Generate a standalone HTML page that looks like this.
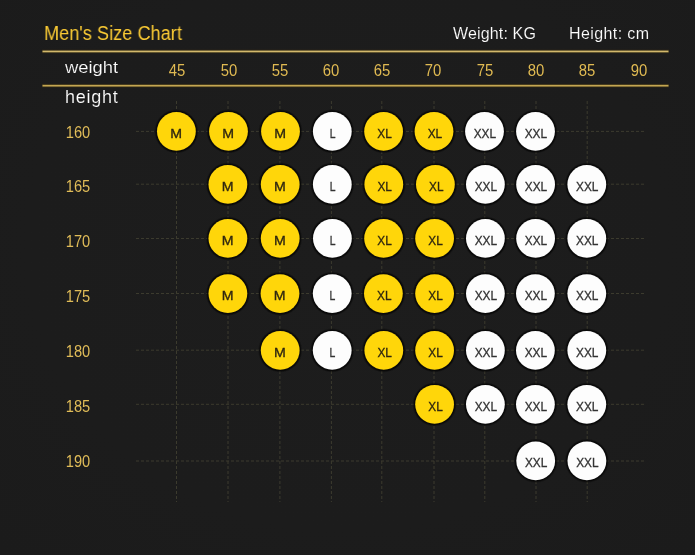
<!DOCTYPE html>
<html><head><meta charset="utf-8"><title>Men's Size Chart</title>
<style>
html,body{margin:0;padding:0;}
body{width:695px;height:555px;overflow:hidden;background:#1c1c1c;font-family:"Liberation Sans",sans-serif;position:relative;}
.bg{position:absolute;left:0;top:0;width:695px;height:555px;background:radial-gradient(ellipse at 50% 45%,#1d1d1d 0%,#1c1c1c 65%,#1b1b1b 100%);}
.t{position:absolute;white-space:nowrap;line-height:1;transform-origin:0 50%;will-change:transform;}
.title{color:#fbcb34;font-size:19.6px;left:44.3px;top:24.2px;transform:scaleX(.928);}
.hd{color:#ffffff;font-size:16px;-webkit-text-stroke:.15px #1c1c1c;}
.wl{color:#ffffff;font-size:18px;-webkit-text-stroke:.15px #1c1c1c;}
.num{position:absolute;width:40px;text-align:center;line-height:1;font-size:16px;color:#e0ba52;transform:scaleX(.93);}
.rl{position:absolute;left:58px;width:40px;text-align:center;line-height:1;font-size:16px;color:#e0bc58;transform:scaleX(.915);}
svg{position:absolute;left:0;top:0;}
#w{position:absolute;left:0;top:0;width:695px;height:555px;will-change:transform;}
</style></head><body><div class="bg"></div><div id="w">

<svg width="695" height="555" viewBox="0 0 695 555">
<g stroke="#3c3b2e" stroke-width="1" stroke-dasharray="3 2" fill="none">
<line x1="176.5" y1="101" x2="176.5" y2="502"/>
<line x1="228.0" y1="101" x2="228.0" y2="502"/>
<line x1="279.9" y1="101" x2="279.9" y2="502"/>
<line x1="331.4" y1="101" x2="331.4" y2="502"/>
<line x1="381.8" y1="101" x2="381.8" y2="502"/>
<line x1="434.0" y1="101" x2="434.0" y2="502"/>
<line x1="484.8" y1="101" x2="484.8" y2="502"/>
<line x1="536.0" y1="101" x2="536.0" y2="502"/>
<line x1="587.2" y1="101" x2="587.2" y2="502"/>
<line x1="136" y1="131.4" x2="644" y2="131.4"/>
<line x1="136" y1="184.2" x2="644" y2="184.2"/>
<line x1="136" y1="238.5" x2="644" y2="238.5"/>
<line x1="136" y1="293.5" x2="644" y2="293.5"/>
<line x1="136" y1="350.2" x2="644" y2="350.2"/>
<line x1="136" y1="404.3" x2="644" y2="404.3"/>
<line x1="136" y1="461.0" x2="644" y2="461.0"/>
</g>
<rect x="42" y="49.7" width="627" height="3.5" fill="#4a3a10" opacity=".45"/>
<rect x="42" y="83.9" width="627" height="3.5" fill="#4a3a10" opacity=".45"/>
<rect x="42.5" y="50.6" width="626" height="1.7" fill="#d2b86c"/>
<rect x="42.5" y="84.85" width="626" height="1.7" fill="#c4a652"/>
</svg>
<div class="t title">Men's Size Chart</div>
<div class="t hd" style="left:453.3px;top:26px;letter-spacing:.15px;">Weight: KG</div>
<div class="t hd" style="left:568.7px;top:26.2px;letter-spacing:.4px;">Height: cm</div>
<div class="t wl" style="left:64.7px;top:59.9px;font-size:15.8px;transform:scaleX(1.165);">weight</div>
<div class="t wl" style="left:64.5px;top:88.2px;letter-spacing:.75px;">height</div>
<div class="num" style="left:156.8px;top:62.7px;">45</div>
<div class="num" style="left:208.6px;top:62.7px;">50</div>
<div class="num" style="left:259.9px;top:62.7px;">55</div>
<div class="num" style="left:311.4px;top:62.7px;">60</div>
<div class="num" style="left:361.7px;top:62.7px;">65</div>
<div class="num" style="left:413.2px;top:62.7px;">70</div>
<div class="num" style="left:464.5px;top:62.7px;">75</div>
<div class="num" style="left:516.0px;top:62.7px;">80</div>
<div class="num" style="left:567.3px;top:62.7px;">85</div>
<div class="num" style="left:618.9px;top:62.7px;">90</div>
<div class="rl" style="top:124.8px;">160</div>
<div class="rl" style="top:179.1px;">165</div>
<div class="rl" style="top:234.1px;">170</div>
<div class="rl" style="top:289.0px;">175</div>
<div class="rl" style="top:343.9px;">180</div>
<div class="rl" style="top:399.0px;">185</div>
<div class="rl" style="top:454.0px;">190</div>
<svg width="695" height="555" viewBox="0 0 695 555"><g font-family="Liberation Sans, sans-serif" font-size="13" text-anchor="middle"><circle cx="176.4" cy="131.4" r="21.8" fill="#060606" opacity=".28"/><circle cx="176.4" cy="131.4" r="20.9" fill="#060606" opacity=".72"/><circle cx="176.4" cy="131.4" r="19.4" fill="#ffd60a"/><text transform="translate(176.10,137.65) scale(1.09,1)" fill="#2e2610" stroke="#2e2610" stroke-width=".3">M</text><circle cx="228.5" cy="131.4" r="21.8" fill="#060606" opacity=".28"/><circle cx="228.5" cy="131.4" r="20.9" fill="#060606" opacity=".72"/><circle cx="228.5" cy="131.4" r="19.4" fill="#ffd60a"/><text transform="translate(228.20,137.65) scale(1.09,1)" fill="#2e2610" stroke="#2e2610" stroke-width=".3">M</text><circle cx="280.5" cy="131.4" r="21.8" fill="#060606" opacity=".28"/><circle cx="280.5" cy="131.4" r="20.9" fill="#060606" opacity=".72"/><circle cx="280.5" cy="131.4" r="19.4" fill="#ffd60a"/><text transform="translate(280.20,137.65) scale(1.09,1)" fill="#2e2610" stroke="#2e2610" stroke-width=".3">M</text><circle cx="332.3" cy="131.4" r="21.8" fill="#060606" opacity=".28"/><circle cx="332.3" cy="131.4" r="20.9" fill="#060606" opacity=".72"/><circle cx="332.3" cy="131.4" r="19.4" fill="#fdfdfd"/><text transform="translate(332.60,137.65) scale(0.8,1)" fill="#333333" stroke="#333333" stroke-width=".3">L</text><circle cx="383.6" cy="131.4" r="21.8" fill="#060606" opacity=".28"/><circle cx="383.6" cy="131.4" r="20.9" fill="#060606" opacity=".72"/><circle cx="383.6" cy="131.4" r="19.4" fill="#ffd60a"/><text transform="translate(384.50,137.65) scale(0.91,1)" fill="#2e2610" stroke="#2e2610" stroke-width=".3">XL</text><circle cx="434.0" cy="131.4" r="21.8" fill="#060606" opacity=".28"/><circle cx="434.0" cy="131.4" r="20.9" fill="#060606" opacity=".72"/><circle cx="434.0" cy="131.4" r="19.4" fill="#ffd60a"/><text transform="translate(434.90,137.65) scale(0.91,1)" fill="#2e2610" stroke="#2e2610" stroke-width=".3">XL</text><circle cx="484.5" cy="131.4" r="21.8" fill="#060606" opacity=".28"/><circle cx="484.5" cy="131.4" r="20.9" fill="#060606" opacity=".72"/><circle cx="484.5" cy="131.4" r="19.4" fill="#fdfdfd"/><text transform="translate(484.90,137.65) scale(0.91,1)" fill="#333333" stroke="#333333" stroke-width=".3">XXL</text><circle cx="535.5" cy="131.4" r="21.8" fill="#060606" opacity=".28"/><circle cx="535.5" cy="131.4" r="20.9" fill="#060606" opacity=".72"/><circle cx="535.5" cy="131.4" r="19.4" fill="#fdfdfd"/><text transform="translate(535.90,137.65) scale(0.91,1)" fill="#333333" stroke="#333333" stroke-width=".3">XXL</text><circle cx="227.9" cy="184.4" r="21.8" fill="#060606" opacity=".28"/><circle cx="227.9" cy="184.4" r="20.9" fill="#060606" opacity=".72"/><circle cx="227.9" cy="184.4" r="19.4" fill="#ffd60a"/><text transform="translate(227.60,190.65) scale(1.09,1)" fill="#2e2610" stroke="#2e2610" stroke-width=".3">M</text><circle cx="280.2" cy="184.4" r="21.8" fill="#060606" opacity=".28"/><circle cx="280.2" cy="184.4" r="20.9" fill="#060606" opacity=".72"/><circle cx="280.2" cy="184.4" r="19.4" fill="#ffd60a"/><text transform="translate(279.90,190.65) scale(1.09,1)" fill="#2e2610" stroke="#2e2610" stroke-width=".3">M</text><circle cx="332.3" cy="184.4" r="21.8" fill="#060606" opacity=".28"/><circle cx="332.3" cy="184.4" r="20.9" fill="#060606" opacity=".72"/><circle cx="332.3" cy="184.4" r="19.4" fill="#fdfdfd"/><text transform="translate(332.60,190.65) scale(0.8,1)" fill="#333333" stroke="#333333" stroke-width=".3">L</text><circle cx="383.8" cy="184.4" r="21.8" fill="#060606" opacity=".28"/><circle cx="383.8" cy="184.4" r="20.9" fill="#060606" opacity=".72"/><circle cx="383.8" cy="184.4" r="19.4" fill="#ffd60a"/><text transform="translate(384.70,190.65) scale(0.91,1)" fill="#2e2610" stroke="#2e2610" stroke-width=".3">XL</text><circle cx="435.4" cy="184.4" r="21.8" fill="#060606" opacity=".28"/><circle cx="435.4" cy="184.4" r="20.9" fill="#060606" opacity=".72"/><circle cx="435.4" cy="184.4" r="19.4" fill="#ffd60a"/><text transform="translate(436.30,190.65) scale(0.91,1)" fill="#2e2610" stroke="#2e2610" stroke-width=".3">XL</text><circle cx="485.4" cy="184.4" r="21.8" fill="#060606" opacity=".28"/><circle cx="485.4" cy="184.4" r="20.9" fill="#060606" opacity=".72"/><circle cx="485.4" cy="184.4" r="19.4" fill="#fdfdfd"/><text transform="translate(485.80,190.65) scale(0.91,1)" fill="#333333" stroke="#333333" stroke-width=".3">XXL</text><circle cx="535.6" cy="184.4" r="21.8" fill="#060606" opacity=".28"/><circle cx="535.6" cy="184.4" r="20.9" fill="#060606" opacity=".72"/><circle cx="535.6" cy="184.4" r="19.4" fill="#fdfdfd"/><text transform="translate(536.00,190.65) scale(0.91,1)" fill="#333333" stroke="#333333" stroke-width=".3">XXL</text><circle cx="586.8" cy="184.4" r="21.8" fill="#060606" opacity=".28"/><circle cx="586.8" cy="184.4" r="20.9" fill="#060606" opacity=".72"/><circle cx="586.8" cy="184.4" r="19.4" fill="#fdfdfd"/><text transform="translate(587.20,190.65) scale(0.91,1)" fill="#333333" stroke="#333333" stroke-width=".3">XXL</text><circle cx="227.9" cy="238.4" r="21.8" fill="#060606" opacity=".28"/><circle cx="227.9" cy="238.4" r="20.9" fill="#060606" opacity=".72"/><circle cx="227.9" cy="238.4" r="19.4" fill="#ffd60a"/><text transform="translate(227.60,244.65) scale(1.09,1)" fill="#2e2610" stroke="#2e2610" stroke-width=".3">M</text><circle cx="280.2" cy="238.4" r="21.8" fill="#060606" opacity=".28"/><circle cx="280.2" cy="238.4" r="20.9" fill="#060606" opacity=".72"/><circle cx="280.2" cy="238.4" r="19.4" fill="#ffd60a"/><text transform="translate(279.90,244.65) scale(1.09,1)" fill="#2e2610" stroke="#2e2610" stroke-width=".3">M</text><circle cx="332.4" cy="238.4" r="21.8" fill="#060606" opacity=".28"/><circle cx="332.4" cy="238.4" r="20.9" fill="#060606" opacity=".72"/><circle cx="332.4" cy="238.4" r="19.4" fill="#fdfdfd"/><text transform="translate(332.70,244.65) scale(0.8,1)" fill="#333333" stroke="#333333" stroke-width=".3">L</text><circle cx="383.6" cy="238.4" r="21.8" fill="#060606" opacity=".28"/><circle cx="383.6" cy="238.4" r="20.9" fill="#060606" opacity=".72"/><circle cx="383.6" cy="238.4" r="19.4" fill="#ffd60a"/><text transform="translate(384.50,244.65) scale(0.91,1)" fill="#2e2610" stroke="#2e2610" stroke-width=".3">XL</text><circle cx="434.6" cy="238.4" r="21.8" fill="#060606" opacity=".28"/><circle cx="434.6" cy="238.4" r="20.9" fill="#060606" opacity=".72"/><circle cx="434.6" cy="238.4" r="19.4" fill="#ffd60a"/><text transform="translate(435.50,244.65) scale(0.91,1)" fill="#2e2610" stroke="#2e2610" stroke-width=".3">XL</text><circle cx="485.4" cy="238.4" r="21.8" fill="#060606" opacity=".28"/><circle cx="485.4" cy="238.4" r="20.9" fill="#060606" opacity=".72"/><circle cx="485.4" cy="238.4" r="19.4" fill="#fdfdfd"/><text transform="translate(485.80,244.65) scale(0.91,1)" fill="#333333" stroke="#333333" stroke-width=".3">XXL</text><circle cx="535.6" cy="238.4" r="21.8" fill="#060606" opacity=".28"/><circle cx="535.6" cy="238.4" r="20.9" fill="#060606" opacity=".72"/><circle cx="535.6" cy="238.4" r="19.4" fill="#fdfdfd"/><text transform="translate(536.00,244.65) scale(0.91,1)" fill="#333333" stroke="#333333" stroke-width=".3">XXL</text><circle cx="586.8" cy="238.4" r="21.8" fill="#060606" opacity=".28"/><circle cx="586.8" cy="238.4" r="20.9" fill="#060606" opacity=".72"/><circle cx="586.8" cy="238.4" r="19.4" fill="#fdfdfd"/><text transform="translate(587.20,244.65) scale(0.91,1)" fill="#333333" stroke="#333333" stroke-width=".3">XXL</text><circle cx="227.9" cy="293.6" r="21.8" fill="#060606" opacity=".28"/><circle cx="227.9" cy="293.6" r="20.9" fill="#060606" opacity=".72"/><circle cx="227.9" cy="293.6" r="19.4" fill="#ffd60a"/><text transform="translate(227.60,299.85) scale(1.09,1)" fill="#2e2610" stroke="#2e2610" stroke-width=".3">M</text><circle cx="280.0" cy="293.6" r="21.8" fill="#060606" opacity=".28"/><circle cx="280.0" cy="293.6" r="20.9" fill="#060606" opacity=".72"/><circle cx="280.0" cy="293.6" r="19.4" fill="#ffd60a"/><text transform="translate(279.70,299.85) scale(1.09,1)" fill="#2e2610" stroke="#2e2610" stroke-width=".3">M</text><circle cx="332.2" cy="293.6" r="21.8" fill="#060606" opacity=".28"/><circle cx="332.2" cy="293.6" r="20.9" fill="#060606" opacity=".72"/><circle cx="332.2" cy="293.6" r="19.4" fill="#fdfdfd"/><text transform="translate(332.50,299.85) scale(0.8,1)" fill="#333333" stroke="#333333" stroke-width=".3">L</text><circle cx="383.4" cy="293.6" r="21.8" fill="#060606" opacity=".28"/><circle cx="383.4" cy="293.6" r="20.9" fill="#060606" opacity=".72"/><circle cx="383.4" cy="293.6" r="19.4" fill="#ffd60a"/><text transform="translate(384.30,299.85) scale(0.91,1)" fill="#2e2610" stroke="#2e2610" stroke-width=".3">XL</text><circle cx="434.6" cy="293.6" r="21.8" fill="#060606" opacity=".28"/><circle cx="434.6" cy="293.6" r="20.9" fill="#060606" opacity=".72"/><circle cx="434.6" cy="293.6" r="19.4" fill="#ffd60a"/><text transform="translate(435.50,299.85) scale(0.91,1)" fill="#2e2610" stroke="#2e2610" stroke-width=".3">XL</text><circle cx="485.4" cy="293.6" r="21.8" fill="#060606" opacity=".28"/><circle cx="485.4" cy="293.6" r="20.9" fill="#060606" opacity=".72"/><circle cx="485.4" cy="293.6" r="19.4" fill="#fdfdfd"/><text transform="translate(485.80,299.85) scale(0.91,1)" fill="#333333" stroke="#333333" stroke-width=".3">XXL</text><circle cx="535.4" cy="293.6" r="21.8" fill="#060606" opacity=".28"/><circle cx="535.4" cy="293.6" r="20.9" fill="#060606" opacity=".72"/><circle cx="535.4" cy="293.6" r="19.4" fill="#fdfdfd"/><text transform="translate(535.80,299.85) scale(0.91,1)" fill="#333333" stroke="#333333" stroke-width=".3">XXL</text><circle cx="586.8" cy="293.6" r="21.8" fill="#060606" opacity=".28"/><circle cx="586.8" cy="293.6" r="20.9" fill="#060606" opacity=".72"/><circle cx="586.8" cy="293.6" r="19.4" fill="#fdfdfd"/><text transform="translate(587.20,299.85) scale(0.91,1)" fill="#333333" stroke="#333333" stroke-width=".3">XXL</text><circle cx="280.2" cy="350.4" r="21.8" fill="#060606" opacity=".28"/><circle cx="280.2" cy="350.4" r="20.9" fill="#060606" opacity=".72"/><circle cx="280.2" cy="350.4" r="19.4" fill="#ffd60a"/><text transform="translate(279.90,356.65) scale(1.09,1)" fill="#2e2610" stroke="#2e2610" stroke-width=".3">M</text><circle cx="332.2" cy="350.4" r="21.8" fill="#060606" opacity=".28"/><circle cx="332.2" cy="350.4" r="20.9" fill="#060606" opacity=".72"/><circle cx="332.2" cy="350.4" r="19.4" fill="#fdfdfd"/><text transform="translate(332.50,356.65) scale(0.8,1)" fill="#333333" stroke="#333333" stroke-width=".3">L</text><circle cx="383.8" cy="350.4" r="21.8" fill="#060606" opacity=".28"/><circle cx="383.8" cy="350.4" r="20.9" fill="#060606" opacity=".72"/><circle cx="383.8" cy="350.4" r="19.4" fill="#ffd60a"/><text transform="translate(384.70,356.65) scale(0.91,1)" fill="#2e2610" stroke="#2e2610" stroke-width=".3">XL</text><circle cx="434.6" cy="350.4" r="21.8" fill="#060606" opacity=".28"/><circle cx="434.6" cy="350.4" r="20.9" fill="#060606" opacity=".72"/><circle cx="434.6" cy="350.4" r="19.4" fill="#ffd60a"/><text transform="translate(435.50,356.65) scale(0.91,1)" fill="#2e2610" stroke="#2e2610" stroke-width=".3">XL</text><circle cx="485.4" cy="350.4" r="21.8" fill="#060606" opacity=".28"/><circle cx="485.4" cy="350.4" r="20.9" fill="#060606" opacity=".72"/><circle cx="485.4" cy="350.4" r="19.4" fill="#fdfdfd"/><text transform="translate(485.80,356.65) scale(0.91,1)" fill="#333333" stroke="#333333" stroke-width=".3">XXL</text><circle cx="535.4" cy="350.4" r="21.8" fill="#060606" opacity=".28"/><circle cx="535.4" cy="350.4" r="20.9" fill="#060606" opacity=".72"/><circle cx="535.4" cy="350.4" r="19.4" fill="#fdfdfd"/><text transform="translate(535.80,356.65) scale(0.91,1)" fill="#333333" stroke="#333333" stroke-width=".3">XXL</text><circle cx="586.8" cy="350.4" r="21.8" fill="#060606" opacity=".28"/><circle cx="586.8" cy="350.4" r="20.9" fill="#060606" opacity=".72"/><circle cx="586.8" cy="350.4" r="19.4" fill="#fdfdfd"/><text transform="translate(587.20,356.65) scale(0.91,1)" fill="#333333" stroke="#333333" stroke-width=".3">XXL</text><circle cx="434.6" cy="404.3" r="21.8" fill="#060606" opacity=".28"/><circle cx="434.6" cy="404.3" r="20.9" fill="#060606" opacity=".72"/><circle cx="434.6" cy="404.3" r="19.4" fill="#ffd60a"/><text transform="translate(435.50,410.55) scale(0.91,1)" fill="#2e2610" stroke="#2e2610" stroke-width=".3">XL</text><circle cx="485.4" cy="404.3" r="21.8" fill="#060606" opacity=".28"/><circle cx="485.4" cy="404.3" r="20.9" fill="#060606" opacity=".72"/><circle cx="485.4" cy="404.3" r="19.4" fill="#fdfdfd"/><text transform="translate(485.80,410.55) scale(0.91,1)" fill="#333333" stroke="#333333" stroke-width=".3">XXL</text><circle cx="535.4" cy="404.3" r="21.8" fill="#060606" opacity=".28"/><circle cx="535.4" cy="404.3" r="20.9" fill="#060606" opacity=".72"/><circle cx="535.4" cy="404.3" r="19.4" fill="#fdfdfd"/><text transform="translate(535.80,410.55) scale(0.91,1)" fill="#333333" stroke="#333333" stroke-width=".3">XXL</text><circle cx="586.8" cy="404.3" r="21.8" fill="#060606" opacity=".28"/><circle cx="586.8" cy="404.3" r="20.9" fill="#060606" opacity=".72"/><circle cx="586.8" cy="404.3" r="19.4" fill="#fdfdfd"/><text transform="translate(587.20,410.55) scale(0.91,1)" fill="#333333" stroke="#333333" stroke-width=".3">XXL</text><circle cx="535.7" cy="460.8" r="21.8" fill="#060606" opacity=".28"/><circle cx="535.7" cy="460.8" r="20.9" fill="#060606" opacity=".72"/><circle cx="535.7" cy="460.8" r="19.4" fill="#fdfdfd"/><text transform="translate(536.10,467.05) scale(0.91,1)" fill="#333333" stroke="#333333" stroke-width=".3">XXL</text><circle cx="586.9" cy="460.8" r="21.8" fill="#060606" opacity=".28"/><circle cx="586.9" cy="460.8" r="20.9" fill="#060606" opacity=".72"/><circle cx="586.9" cy="460.8" r="19.4" fill="#fdfdfd"/><text transform="translate(587.30,467.05) scale(0.91,1)" fill="#333333" stroke="#333333" stroke-width=".3">XXL</text></g></svg>
</div></body></html>
